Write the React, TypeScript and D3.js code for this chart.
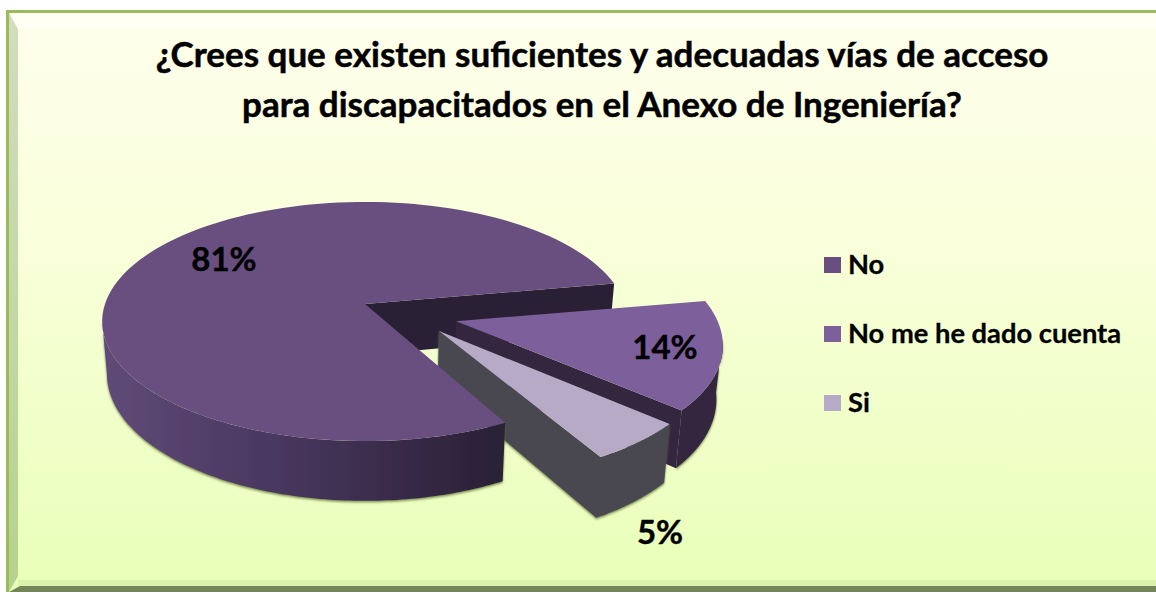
import * as d3 from "d3";

const categories = ["No", "No me he dado cuenta", "Si"];
const percents = [81, 14, 5];
const titleLines = [
  "¿Crees que existen suficientes y adecuadas vías de acceso",
  "para discapacitados en el Anexo de Ingeniería?",
];

const topColors = ["#684f80", "#7d5f9c", "#b6aac6"];
const wallColors = ["#2a2035", "#35263f", "#4a4650"];
const explode = [
  [0, 0],
  [0.3427, 0.1434],
  [0.2753, 0.223],
];
// small corrections so the cut edges land where the picture has them (degrees)
const startNudge = [2, -1.5, 0];
const endNudge = [-2, 0, 1];
const sliceRadius = [1, 0.985, 1];
const labelPos = [
  [224, 271],
  [665, 359],
  [660, 544],
];

const width = 1156;
const height = 592;
const fontFamily = "Lato, 'Open Sans', sans-serif";

// perspective projection of the tilted unit disc
const originX = 365;
const originY = 304;
const radiusX = 260;
const radiusY = 117;
const tilt = 0.1465;
const depth = 51;
const taper = 0.018;

const project = (u: number, v: number, h: number): [number, number] => {
  const w = 1 - tilt * v;
  return [
    originX + (radiusX * u * (1 - taper * h)) / w,
    originY + (radiusY * v + depth * h) / w,
  ];
};

const rad = (deg: number) => (deg * Math.PI) / 180;

const pie = d3.pie<number>().sort(null).startAngle(rad(150)).endAngle(rad(510));
const slices = pie(percents).map((s, i) => {
  // the pie starts at 150 degrees, so the later slices run past a full turn
  const turn = s.startAngle >= 2 * Math.PI ? 2 * Math.PI : 0;
  return {
    startAngle: s.startAngle - turn + rad(startNudge[i]),
    endAngle: s.endAngle - turn + rad(endNudge[i]),
  };
});

const line = d3.line();
// where the side of the disc turns away from the viewer
const sideAngle = Math.asin(tilt);

const rimPoint = (i: number, a: number, h: number) =>
  project(
    sliceRadius[i] * Math.sin(a) + explode[i][0],
    -sliceRadius[i] * Math.cos(a) + explode[i][1],
    h
  );

const rimPoints = (i: number, a0: number, a1: number, h: number) =>
  d3.range(0, 121).map((k) => rimPoint(i, a0 + ((a1 - a0) * k) / 120, h));

const topPath = (i: number) => {
  const s = slices[i];
  return (
    line([
      project(explode[i][0], explode[i][1], 0),
      ...rimPoints(i, s.startAngle, s.endAngle, 0),
    ]) + "Z"
  );
};

// curved outer wall, only the part turned towards the viewer
const rimWallPath = (i: number) => {
  const s = slices[i];
  const a = Math.max(s.startAngle, Math.PI / 2 + sideAngle);
  const b = Math.min(s.endAngle, (3 * Math.PI) / 2 - sideAngle);
  return (
    line([...rimPoints(i, a, b, 0), ...rimPoints(i, a, b, 1).reverse()]) + "Z"
  );
};

// flat cut face between the slice centre and one rim angle
const cutPath = (i: number, a: number) => {
  const off = explode[i];
  return (
    line([
      project(off[0], off[1], 0),
      rimPoint(i, a, 0),
      rimPoint(i, a, 1),
      project(off[0], off[1], 1),
    ]) + "Z"
  );
};

const legendY = d3.scalePoint<string>().domain(categories).range([265, 403]);

export default function App() {
  return (
    <svg
      width={width}
      height={height}
      viewBox={`0 0 ${width} ${height}`}
      style={{ position: "absolute", left: 0, top: 0, display: "block", background: "#fff" }}
    >
      <defs>
        <linearGradient id="bg" x1="0" y1="0" x2="0" y2="1">
          <stop offset="0" stopColor="#feffec" />
          <stop offset="0.4" stopColor="#f9ffda" />
          <stop offset="1" stopColor="#e8ffb8" />
        </linearGradient>
        <linearGradient id="bevelLeft" x1="0" y1="0" x2="0" y2="1">
          <stop offset="0" stopColor="#d3dcc0" />
          <stop offset="1" stopColor="#b5d28c" />
        </linearGradient>
        <linearGradient id="mainWall" gradientUnits="userSpaceOnUse" x1="105" y1="0" x2="503" y2="0">
          <stop offset="0" stopColor="#5f4a78" />
          <stop offset="0.5" stopColor="#45345a" />
          <stop offset="1" stopColor="#2a2035" />
        </linearGradient>
        <filter id="shade" x="-5%" y="-5%" width="110%" height="110%">
          <feDropShadow dx="0" dy="1.5" stdDeviation="1.2" floodColor="#5c6b35" floodOpacity="0.8" />
        </filter>
      </defs>

      {/* frame with bevel */}
      <rect x={6} y={10} width={1150} height={582} fill="#9bbb59" />
      <rect x={9} y={13} width={1147} height={579} fill="url(#bg)" />
      <polygon points="9,13 1156,13 1156,29 18,29" fill="#fffff4" />
      <polygon points="9,13 18,29 18,576 9,592" fill="url(#bevelLeft)" />
      <polygon points="9,592 20,586 1156,586 1156,592" fill="#748559" />
      <rect x={18} y={580} width={1138} height={6} fill="#d4eda6" opacity={0.7} />

      {titleLines.map((t, i) => (
        <text
          key={t}
          x={602}
          y={67 + i * 50}
          textAnchor="middle"
          fontFamily={fontFamily}
          fontWeight={700}
          fontSize={35}
          stroke="#000"
          strokeWidth={0.5}
          fill="#000"
        >
          {t}
        </text>
      ))}

      {/* walls behind the main slice */}
      <path d={cutPath(0, slices[0].endAngle)} fill={wallColors[0]} />

      <g filter="url(#shade)">
        <path d={rimWallPath(1)} fill={wallColors[1]} />
      </g>
      <path d={cutPath(1, slices[1].endAngle)} fill={wallColors[1]} />
      <path d={topPath(1)} fill={topColors[1]} />

      <g filter="url(#shade)">
        <path d={rimWallPath(2) + cutPath(2, slices[2].endAngle)} fill={wallColors[2]} />
      </g>
      <path d={topPath(2)} fill={topColors[2]} />

      <g filter="url(#shade)">
        <path d={rimWallPath(0)} fill="url(#mainWall)" />
      </g>
      <path d={topPath(0)} fill={topColors[0]} />

      {percents.map((p, i) => (
        <text
          key={categories[i]}
          x={labelPos[i][0]}
          y={labelPos[i][1]}
          textAnchor="middle"
          fontFamily={fontFamily}
          fontWeight={700}
          fontSize={33}
          stroke="#000"
          strokeWidth={0.4}
          fill="#000"
        >
          {p}%
        </text>
      ))}

      {categories.map((c, i) => (
        <g key={c} transform={`translate(0,${legendY(c)})`}>
          <rect x={824} y={-8} width={17} height={16} fill={topColors[i]} />
          <text
            x={848}
            y={9}
            fontFamily={fontFamily}
            fontWeight={700}
            fontSize={27.3}
            stroke="#000"
            strokeWidth={0.3}
            fill="#000"
          >
            {c}
          </text>
        </g>
      ))}
    </svg>
  );
}
